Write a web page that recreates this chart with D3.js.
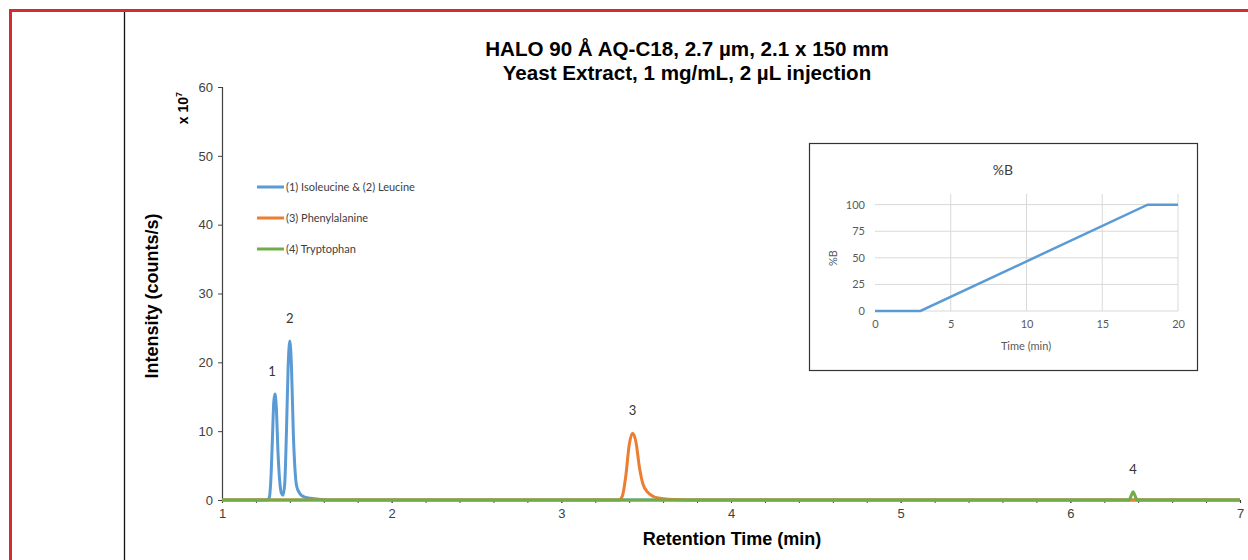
<!DOCTYPE html>
<html>
<head>
<meta charset="utf-8">
<script src="https://cdn.jsdelivr.net/npm/d3@7"></script>
<style>
    body { margin: 0; background: #fff; }
    svg { display: block; }
    .ax text { font-family: "Liberation Sans", Arial, sans-serif; font-size: 13px; fill: #404040; }
    .inset text { font-family: Lato, "Open Sans", sans-serif; font-size: 11px; fill: #595959; }
</style>
</head>
<body>
<div id="chart"></div>
<script>

/*
 * values
 */
var titleLines = ["HALO 90 Å AQ-C18, 2.7 µm, 2.1 x 150 mm", "Yeast Extract, 1 mg/mL, 2 µL injection"];
var seriesNames = ["(1) Isoleucine & (2) Leucine", "(3) Phenylalanine", "(4) Tryptophan"];
var seriesColors = ["#5b9bd5", "#ed7d31", "#70ad47"];

// retention time (min) and intensity (x 10^7 counts/s)
var blueTime = [1.0, 1.27, 1.28, 1.29, 1.30, 1.305, 1.312, 1.32, 1.33, 1.34, 1.35, 1.36, 1.37, 1.38, 1.39, 1.40, 1.41, 1.42, 1.43, 1.44, 1.46, 1.48, 1.52, 1.58, 1.65, 7.0];
var blueInt  = [0, 0, 0.5, 4.0, 11.0, 14.2, 15.4, 13.5, 7.0, 2.8, 1.0, 0.7, 2.5, 10.0, 19.5, 23.1, 19.0, 10.0, 4.5, 2.0, 0.9, 0.5, 0.25, 0.08, 0, 0];
var orangeTime = [1.0, 3.34, 3.36, 3.38, 3.40, 3.42, 3.44, 3.46, 3.48, 3.51, 3.54, 3.58, 3.63, 3.71, 3.81, 7.0];
var orangeInt  = [0, 0, 0.6, 3.5, 8.0, 9.7, 8.4, 4.8, 2.4, 1.1, 0.55, 0.25, 0.1, 0.03, 0, 0];
var greenTime = [1.0, 6.345, 6.36, 6.37, 6.38, 6.395, 7.0];
var greenInt  = [0, 0, 0.7, 1.2, 0.7, 0, 0];

var peakLabels = ["1", "2", "3", "4"];
var peakTimes  = [1.312, 1.40, 3.42, 6.37];
var peakInts   = [15.4, 23.1, 9.7, 1.2];

var xTicks = [1, 2, 3, 4, 5, 6, 7];
var yTicks = [0, 10, 20, 30, 40, 50, 60];

// gradient inset
var gradTime = [0, 3, 18, 20];
var gradB    = [0, 0, 100, 100];
var gradXTicks = [0, 5, 10, 15, 20];
var gradYTicks = [0, 25, 50, 75, 100];


/**
 * ChromVis draws the chromatogram with its gradient inset
 * @param _parentElement -- the D3 node to attach the svg to
 * @constructor
 */
ChromVis = function(_parentElement){
    this.parentElement = _parentElement;
    this.width = 1248;
    this.height = 560;
    this.plot = {left: 222, right: 1240, top: 87, bottom: 500};

    this.initVis();
}


/**
 * sets up the svg, frame, scales and title
 */
ChromVis.prototype.initVis = function(){

    this.svg = this.parentElement.append("svg")
        .attr("width", this.width)
        .attr("height", this.height);

    // page frame
    this.svg.append("path")
        .attr("d", "M10.5,560 V10.5 H1248")
        .attr("fill", "none")
        .attr("stroke", "#d42a32")
        .attr("stroke-width", 3);

    this.svg.append("line")
        .attr("x1", 124.5).attr("x2", 124.5)
        .attr("y1", 12).attr("y2", 560)
        .attr("stroke", "#111")
        .attr("stroke-width", 1.3);

    this.x = d3.scaleLinear().domain([1, 7]).range([this.plot.left, this.plot.right]);
    this.y = d3.scaleLinear().domain([0, 60]).range([this.plot.bottom, this.plot.top]);

    // title
    this.svg.append("text")
        .attr("x", 687)
        .attr("y", 56)
        .attr("text-anchor", "middle")
        .style("font", "bold 20.6px 'Liberation Sans', Arial, sans-serif")
        .selectAll("tspan")
        .data(titleLines)
        .enter().append("tspan")
        .attr("x", 687)
        .attr("dy", function(d, i){ return i == 0 ? 0 : 24; })
        .text(function(d){ return d; });

    this.updateVis();
    this.drawInset();
}


/**
 * axes, traces, legend, peak labels
 */
ChromVis.prototype.updateVis = function(){

    var that = this;

    // y axis
    var yAxis = this.svg.append("g")
        .attr("class", "ax")
        .attr("transform", "translate(" + this.plot.left + ",0)")
        .call(d3.axisLeft(this.y).tickValues(yTicks).tickSize(4).tickPadding(5));
    yAxis.select(".domain").attr("stroke", "#404040").attr("stroke-width", 1.2);
    yAxis.selectAll(".tick line").attr("stroke", "#404040");

    // x axis, with minor ticks every 0.2 min
    var minor = d3.range(1, 7.001, 0.2);
    this.svg.append("g")
        .attr("transform", "translate(0," + this.plot.bottom + ")")
        .call(d3.axisBottom(this.x).tickValues(minor).tickSize(3).tickFormat(""))
        .call(function(g){ g.select(".domain").remove(); })
        .selectAll(".tick line").attr("stroke", "#404040");

    var xAxis = this.svg.append("g")
        .attr("class", "ax")
        .attr("transform", "translate(0," + this.plot.bottom + ")")
        .call(d3.axisBottom(this.x).tickValues(xTicks).tickSize(3).tickPadding(6).tickFormat(d3.format("d")));
    xAxis.select(".domain").attr("stroke", "#404040").attr("stroke-width", 1.2);
    xAxis.selectAll(".tick line").attr("stroke", "#404040");

    // axis titles
    this.svg.append("text")
        .attr("x", 732)
        .attr("y", 545)
        .attr("text-anchor", "middle")
        .style("font", "bold 18px 'Liberation Sans', Arial, sans-serif")
        .text("Retention Time (min)");

    this.svg.append("text")
        .attr("transform", "translate(158,296) rotate(-90)")
        .attr("text-anchor", "middle")
        .style("font", "bold 18px 'Liberation Sans', Arial, sans-serif")
        .text("Intensity (counts/s)");

    var mult = this.svg.append("text")
        .attr("transform", "translate(188,108) rotate(-90)")
        .attr("text-anchor", "middle")
        .style("font", "bold 14px 'Liberation Sans', Arial, sans-serif")
        .text("x 10");
    mult.append("tspan")
        .attr("dy", -6)
        .style("font-size", "9px")
        .text("7");

    // traces
    var traces = [
        blueTime.map(function(t, i){ return [t, blueInt[i]]; }),
        orangeTime.map(function(t, i){ return [t, orangeInt[i]]; }),
        greenTime.map(function(t, i){ return [t, greenInt[i]]; })
    ];

    var line = d3.line()
        .x(function(d){ return that.x(d[0]); })
        .y(function(d){ return that.y(d[1]); })
        .curve(d3.curveMonotoneX);

    this.svg.selectAll(".trace")
        .data(traces)
        .enter().append("path")
        .attr("class", "trace")
        .attr("d", line)
        .attr("fill", "none")
        .attr("stroke", function(d, i){ return seriesColors[i]; })
        .attr("stroke-width", 3)
        .attr("stroke-linejoin", "round");

    // peak numbers
    this.svg.selectAll(".peak")
        .data(peakLabels)
        .enter().append("text")
        .attr("class", "peak")
        .attr("x", function(d, i){ return that.x(peakTimes[i]) - (i == 0 ? 3 : 0); })
        .attr("y", function(d, i){ return that.y(peakInts[i]) - 18; })
        .attr("text-anchor", "middle")
        .style("font", "13px Lato, 'Open Sans', sans-serif")
        .attr("fill", "#333")
        .text(function(d){ return d; });

    // legend
    var leg = this.svg.selectAll(".leg")
        .data(seriesNames)
        .enter().append("g")
        .attr("class", "leg")
        .attr("transform", function(d, i){ return "translate(257," + (187 + i * 31) + ")"; });

    leg.append("line")
        .attr("x1", 0).attr("x2", 27)
        .attr("stroke", function(d, i){ return seriesColors[i]; })
        .attr("stroke-width", 3);

    leg.append("text")
        .attr("x", 29)
        .attr("y", 4)
        .style("font", "11px Lato, 'Open Sans', sans-serif")
        .attr("fill", "#404040")
        .text(function(d){ return d; });
}


/**
 * the %B gradient box at the upper right
 */
ChromVis.prototype.drawInset = function(){

    var g = this.svg.append("g").attr("class", "inset");

    g.append("rect")
        .attr("x", 809.5).attr("y", 143.5)
        .attr("width", 388).attr("height", 227)
        .attr("fill", "#fff")
        .attr("stroke", "#333")
        .attr("stroke-width", 1.2);

    var gx = d3.scaleLinear().domain([0, 20]).range([875, 1178]);
    var gy = d3.scaleLinear().domain([0, 110]).range([311, 194]);

    // grid
    g.selectAll(".vgrid")
        .data(gradXTicks.slice(1))
        .enter().append("line")
        .attr("x1", function(d){ return gx(d); }).attr("x2", function(d){ return gx(d); })
        .attr("y1", gy(0)).attr("y2", gy(110))
        .attr("stroke", "#d9d9d9");

    g.selectAll(".hgrid")
        .data(gradYTicks)
        .enter().append("line")
        .attr("x1", gx(0)).attr("x2", gx(20))
        .attr("y1", function(d){ return gy(d); }).attr("y2", function(d){ return gy(d); })
        .attr("stroke", "#d9d9d9");

    g.append("g")
        .attr("transform", "translate(0," + gy(0) + ")")
        .call(d3.axisBottom(gx).tickValues(gradXTicks).tickSize(0).tickPadding(9))
        .call(function(a){ a.select(".domain").remove(); })
        .selectAll("text").style("font-size", "11px");

    g.append("g")
        .attr("transform", "translate(" + gx(0) + ",0)")
        .call(d3.axisLeft(gy).tickValues(gradYTicks).tickSize(0).tickPadding(10))
        .call(function(a){ a.select(".domain").remove(); })
        .selectAll("text").style("font-size", "11px");

    g.append("path")
        .datum(gradTime.map(function(t, i){ return [t, gradB[i]]; }))
        .attr("d", d3.line()
            .x(function(d){ return gx(d[0]); })
            .y(function(d){ return gy(d[1]); }))
        .attr("fill", "none")
        .attr("stroke", "#5b9bd5")
        .attr("stroke-width", 2.5);

    g.append("text")
        .attr("x", 1003).attr("y", 175)
        .attr("text-anchor", "middle")
        .style("font-size", "14px")
        .style("fill", "#404040")
        .text("%B");

    g.append("text")
        .attr("x", 1026).attr("y", 350)
        .attr("text-anchor", "middle")
        .text("Time (min)");

    g.append("text")
        .attr("transform", "translate(837,258) rotate(-90)")
        .attr("text-anchor", "middle")
        .text("%B");
}


var chart = new ChromVis(d3.select("#chart"));

</script>
</body>
</html>
